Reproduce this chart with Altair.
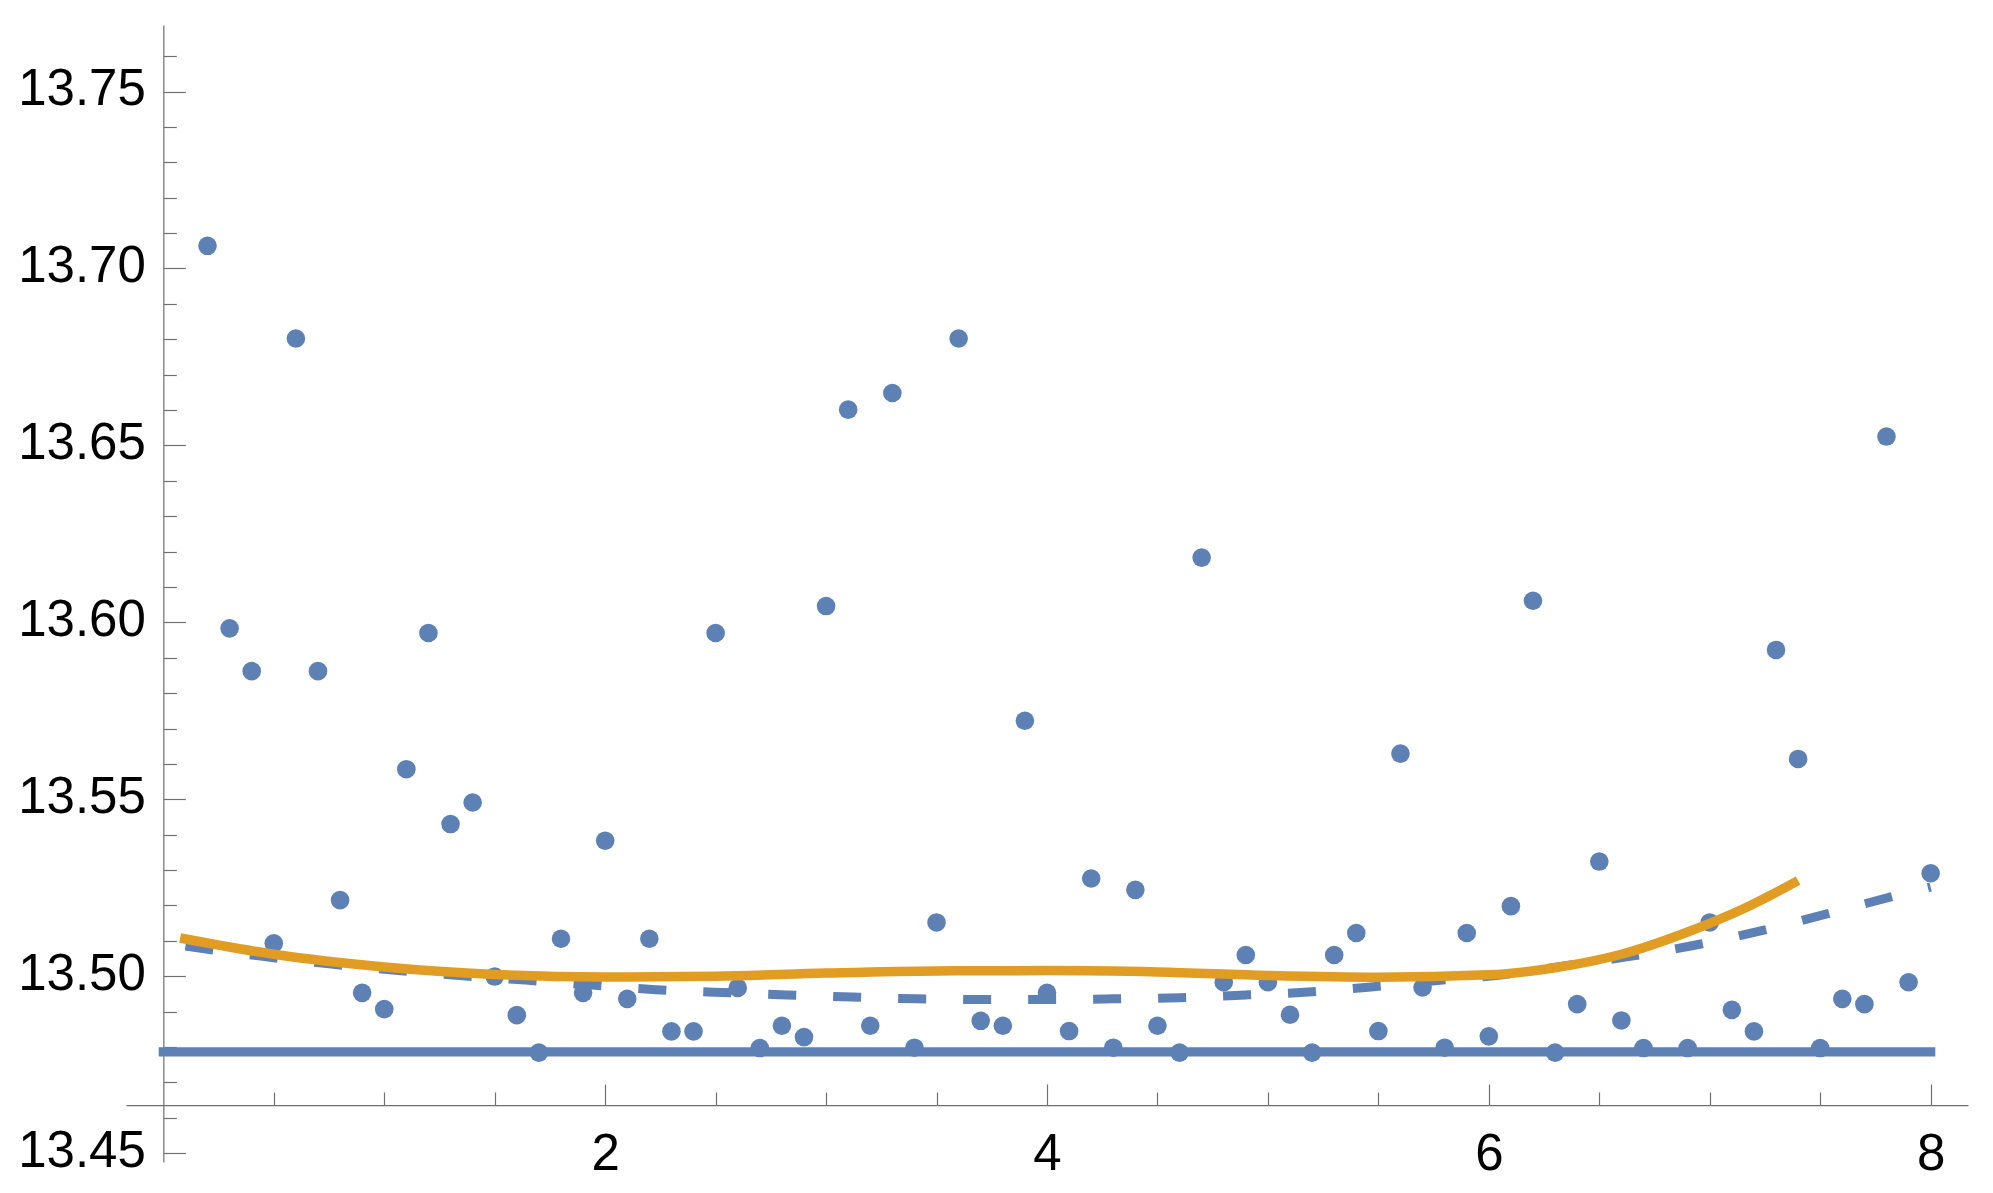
import altair as alt
import pandas as pd

# ---- data ----
pt_x = [0.2, 0.3, 0.4, 0.5, 0.6, 0.7, 0.8, 0.9, 1.0,
        1.1, 1.2, 1.3, 1.4, 1.5, 1.6, 1.7, 1.8, 1.9, 2.0,
        2.1, 2.2, 2.3, 2.4, 2.5, 2.6, 2.7, 2.8, 2.9, 3.0,
        3.1, 3.2, 3.3, 3.4, 3.5, 3.6, 3.7, 3.8, 3.9, 4.0,
        4.1, 4.2, 4.3, 4.4, 4.5, 4.6, 4.7, 4.8, 4.9, 5.0,
        5.1, 5.2, 5.3, 5.4, 5.5, 5.6, 5.7, 5.8, 5.9, 6.0,
        6.1, 6.2, 6.3, 6.4, 6.5, 6.6, 6.7, 6.9, 7.0,
        7.1, 7.2, 7.3, 7.4, 7.5, 7.6, 7.7, 7.8, 7.9, 8.0]
pt_y = [13.7064, 13.5983, 13.5862, 13.5093, 13.6802, 13.5862, 13.5215, 13.4953, 13.4907,
        13.5585, 13.5970, 13.5430, 13.5491, 13.4999, 13.4890, 13.4784, 13.5106, 13.4953, 13.5383,
        13.4936, 13.5106, 13.4844, 13.4844, 13.5970, 13.4967, 13.4797, 13.4860, 13.4828, 13.6046,
        13.6601, 13.4860, 13.6648, 13.4798, 13.5152, 13.6802, 13.4874, 13.4860, 13.5722, 13.4953,
        13.4845, 13.5276, 13.4798, 13.5244, 13.4860, 13.4784, 13.6183, 13.4983, 13.5060, 13.4983,
        13.4891, 13.4784, 13.5060, 13.5122, 13.4845, 13.5629, 13.4968, 13.4798, 13.5122, 13.4830,
        13.5198, 13.6061, 13.4784, 13.4921, 13.5324, 13.4875, 13.4797, 13.4797, 13.5152,
        13.4905, 13.4844, 13.5922, 13.5614, 13.4797, 13.4936, 13.4921, 13.6525, 13.4983, 13.5291]

fit_x = [0.076, 0.5, 1.0, 1.5, 2.0, 2.5, 3.0, 3.5, 4.0, 4.5, 5.0, 5.5, 6.0, 6.3, 6.6, 6.9, 7.15, 7.4]
fit_y = [13.5108, 13.5062, 13.5026, 13.5005, 13.4998, 13.5000, 13.5009, 13.5015, 13.5016,
         13.5012, 13.5002, 13.4997, 13.5004, 13.5024, 13.5062, 13.5125, 13.5190, 13.5270]

trend_x = [0.1, 0.45, 0.75, 1.34, 1.64, 1.94, 2.23, 2.49, 2.82, 3.12, 3.41, 3.71, 4.0, 4.3,
           4.6, 4.9, 5.2, 5.49, 5.79, 6.07, 6.37, 6.67, 6.96, 7.25, 7.53, 7.82, 8.0]
trend_y = [13.5085, 13.5056, 13.5035, 13.5002, 13.4989, 13.4975, 13.4962, 13.4955, 13.4947,
           13.4941, 13.4936, 13.4934, 13.4934, 13.4936, 13.4939, 13.4947, 13.4956, 13.4971,
           13.4989, 13.5005, 13.5032, 13.5059, 13.5091, 13.5131, 13.5176, 13.5224, 13.5252]

base_x = [0.0, 8.0]
base_y = [13.4786, 13.4786]

x_label_ticks = [2, 4, 6, 8]
x_all_ticks = [0.5, 1.0, 1.5, 2.0, 2.5, 3.0, 3.5, 4.0, 4.5, 5.0, 5.5, 6.0, 6.5, 7.0, 7.5, 8.0]
y_label_ticks = [13.45, 13.50, 13.55, 13.60, 13.65, 13.70, 13.75]
y_all_ticks = [13.45, 13.46, 13.47, 13.48, 13.49, 13.50, 13.51, 13.52, 13.53, 13.54, 13.55,
               13.56, 13.57, 13.58, 13.59, 13.60, 13.61, 13.62, 13.63, 13.64, 13.65, 13.66,
               13.67, 13.68, 13.69, 13.70, 13.71, 13.72, 13.73, 13.74, 13.75, 13.76]

x_domain = [-0.169, 8.169]
y_domain = [13.4475, 13.7688]
x_axis_cross = 13.4636

# ---- layout ----
W, H = 1842, 1137
X0_PX = (0 - x_domain[0]) / (x_domain[1] - x_domain[0]) * W
XAX_PX = (x_axis_cross - y_domain[0]) / (y_domain[1] - y_domain[0]) * H

BLUE = "#5E81B5"
ORANGE = "#E19C24"
AXIS_GRAY = "#6f6f6f"
FONT = "Liberation Sans"

xs = alt.Scale(domain=x_domain, nice=False, zero=False)
ys = alt.Scale(domain=y_domain, nice=False, zero=False)

pts = pd.DataFrame({"x": pt_x, "y": pt_y})
fit = pd.DataFrame({"x": fit_x, "y": fit_y})
trend = pd.DataFrame({"x": trend_x, "y": trend_y})
base = pd.DataFrame({"x": base_x, "y": base_y})

points = alt.Chart(pts).mark_circle(size=346, color=BLUE, opacity=1).encode(
    x=alt.X("x:Q", scale=xs, title=None,
            axis=alt.Axis(orient="bottom", offset=-XAX_PX, values=x_label_ticks,
                          ticks=False, tickSize=0, domain=False, grid=False,
                          labelFontSize=51, labelFont=FONT, labelColor="black",
                          labelPadding=24, format="d")),
    y=alt.Y("y:Q", scale=ys, title=None,
            axis=alt.Axis(orient="left", offset=-X0_PX, values=y_label_ticks,
                          ticks=False, tickSize=0, domain=True, domainColor=AXIS_GRAY,
                          domainWidth=1.2, grid=False, labelFontSize=51, labelFont=FONT,
                          labelColor="black", labelPadding=18, labelOffset=-2,
                          format=".2f")),
)

baseline = alt.Chart(base).mark_line(color=BLUE, strokeWidth=9.3, strokeCap="square").encode(
    x=alt.X("x:Q", scale=xs, title=None,
            axis=alt.Axis(orient="top", offset=-(H - XAX_PX), values=x_all_ticks,
                          labels=False, domain=True, domainColor=AXIS_GRAY, domainWidth=1.2,
                          grid=False, tickColor=AXIS_GRAY, tickWidth=1.2,
                          tickSize={"condition": {"test": "round(datum.value * 10) % 20 == 0",
                                                  "value": 21}, "value": 13})),
    y=alt.Y("y:Q", scale=ys, title=None,
            axis=alt.Axis(orient="right", offset=-(W - X0_PX), values=y_all_ticks,
                          labels=False, domain=False, grid=False,
                          tickColor=AXIS_GRAY, tickWidth=1.2,
                          tickSize={"condition": {"test": "round(datum.value * 100) % 5 == 0",
                                                  "value": 22}, "value": 13})),
)

trend_line = alt.Chart(trend).mark_line(color=BLUE, strokeWidth=9, strokeDash=[28, 37],
                                        interpolate="monotone").encode(
    x=alt.X("x:Q", scale=xs, axis=None),
    y=alt.Y("y:Q", scale=ys, axis=None),
)

fit_line = alt.Chart(fit).mark_line(color=ORANGE, strokeWidth=9.5, strokeCap="butt",
                                    interpolate="monotone").encode(
    x=alt.X("x:Q", scale=xs, axis=None),
    y=alt.Y("y:Q", scale=ys, axis=None),
)

chart = alt.layer(points, baseline, trend_line, fit_line).resolve_axis(
    x="independent", y="independent"
).properties(
    width=W, height=H,
    autosize=alt.AutoSizeParams(type="none"),
    padding={"left": 118, "top": 17, "right": 10, "bottom": 20},
).configure_view(stroke=None).configure_axis(grid=False)

chart.save("out.html", embed_options={"renderer": "svg", "actions": False})
